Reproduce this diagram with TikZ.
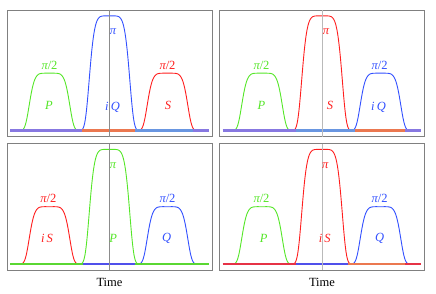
\documentclass[tikz,border=0pt]{standalone}
\usepackage{fontspec}
\setmainfont{Liberation Serif}
\definecolor{pgreen}{RGB}{85,230,40}
\definecolor{pblue}{RGB}{50,80,255}
\definecolor{pred}{RGB}{255,30,30}
\definecolor{bpurple}{RGB}{135,120,225}
\definecolor{borange}{RGB}{235,120,80}
\definecolor{blight}{RGB}{105,150,225}
\definecolor{bblue}{RGB}{80,80,235}
\definecolor{bgreen}{RGB}{90,215,50}
\definecolor{bred}{RGB}{230,50,70}
\definecolor{framegray}{RGB}{128,128,128}
\tikzset{
  framebox/.style={draw=framegray,line width=0.9pt},
  midA/.style={draw={rgb,255:red,140;green,140;blue,140},line width=0.6pt},
  midB/.style={draw={rgb,255:red,185;green,185;blue,185},line width=1pt},
  pulseline/.style={line width=0.9pt},
  baseseg/.style={line width=2pt},
  lab/.style={inner sep=0pt,font=\fontsize{12.5}{14}\selectfont},
}
\newcommand\pulseat[4]{%
  \draw[pulseline,#4] plot[domain=-32:32,samples=90,smooth] ({#1+\x},{#2-#3*exp(-(\x*\x/441)^3)});}
\begin{document}
\begin{tikzpicture}[x=1pt,y=-1pt]
\useasboundingbox (0,0) rectangle (436,294);
% frames
\draw[framebox] (7,10) rectangle (212,136.5);
\draw[framebox] (219.5,10) rectangle (424.5,136.5);
\draw[framebox] (7,143.5) rectangle (212,270);
\draw[framebox] (219.5,143.5) rectangle (424.5,270);
% ---------- panel 1
\pulseat{49.5}{130.5}{57.3}{pgreen}
\pulseat{109.5}{130.5}{114.6}{pblue}
\pulseat{167.5}{130.5}{57.3}{pred}
\draw[baseseg,bpurple] (10,130.5) -- (82,130.5);
\draw[baseseg,borange] (82,130.5) -- (135,130.5);
\draw[baseseg,blight] (135,130.5) -- (193,130.5);
\draw[baseseg,bpurple] (193,130.5) -- (208.5,130.5);
\draw[midA] (109.5,10) -- (109.5,136.5);
\node[lab,pgreen] (a1) at (49.5,65) {{\itshape π}/2};
\node[lab,pgreen] (a2) at (49,105) {\itshape P};
\node[lab,pblue] (a3) at (113,32) {\itshape π};
\node[lab,pblue] (a4) at (112.5,107) {\itshape i\,Q};
\node[lab,pred] (a5) at (167.5,65) {{\itshape π}/2};
\node[lab,pred] (a6) at (168,105) {\itshape S};
% ---------- panel 2
\pulseat{262}{130.5}{57.3}{pgreen}
\pulseat{322}{130.5}{114.6}{pred}
\pulseat{380.5}{130.5}{57.3}{pblue}
\draw[baseseg,bpurple] (222.5,130.5) -- (296,130.5);
\draw[baseseg,blight] (296,130.5) -- (355,130.5);
\draw[baseseg,borange] (355,130.5) -- (405,130.5);
\draw[baseseg,bpurple] (405,130.5) -- (421,130.5);
\draw[midB] (322.3,10) -- (322.3,136.5);
\node[lab,pgreen] (b1) at (261.5,65) {{\itshape π}/2};
\node[lab,pgreen] (b2) at (261.5,105) {\itshape P};
\node[lab,pred] (b3) at (326,32) {\itshape π};
\node[lab,pred] (b4) at (330,105) {\itshape S};
\node[lab,pblue] (b5) at (379.7,65) {{\itshape π}/2};
\node[lab,pblue] (b6) at (378.5,107) {\itshape i\,Q};
% ---------- panel 3
\pulseat{49.5}{264}{57.3}{pred}
\pulseat{109.5}{264}{114.6}{pgreen}
\pulseat{167.5}{264}{57.3}{pblue}
\draw[baseseg,bgreen] (10,264) -- (83,264);
\draw[baseseg,bblue] (83,264) -- (135,264);
\draw[baseseg,bgreen] (135,264) -- (208.5,264);
\draw[midA] (109.5,143.5) -- (109.5,270);
\node[lab,pred] (c1) at (48.3,198.5) {{\itshape π}/2};
\node[lab,pred] (c2) at (47,238.5) {\itshape i\,S};
\node[lab,pgreen] (c3) at (113,165.5) {\itshape π};
\node[lab,pgreen] (c4) at (113.3,238.5) {\itshape P};
\node[lab,pblue] (c5) at (167.5,198.5) {{\itshape π}/2};
\node[lab,pblue] (c6) at (166.7,238.5) {\itshape Q};
% ---------- panel 4
\pulseat{262}{264}{57.3}{pgreen}
\pulseat{322}{264}{114.6}{pred}
\pulseat{380.5}{264}{57.3}{pblue}
\draw[baseseg,bred] (222.5,264) -- (296,264);
\draw[baseseg,bblue] (296,264) -- (348,264);
\draw[baseseg,borange] (348,264) -- (405,264);
\draw[baseseg,bred] (405,264) -- (421,264);
\draw[midB] (322.3,143.5) -- (322.3,270);
\node[lab,pgreen] (d1) at (261.5,198.5) {{\itshape π}/2};
\node[lab,pgreen] (d2) at (263.7,238.5) {\itshape P};
\node[lab,pred] (d3) at (325.3,165.5) {\itshape π};
\node[lab,pred] (d4) at (324.7,238.5) {\itshape i\,S};
\node[lab,pblue] (d5) at (379.7,198.5) {{\itshape π}/2};
\node[lab,pblue] (d6) at (379.7,238.5) {\itshape Q};
% axis labels
\node[lab,black] (t1) at (109.5,282) {Time};
\node[lab,black] (t2) at (322,282) {Time};
\end{tikzpicture}
\end{document}
